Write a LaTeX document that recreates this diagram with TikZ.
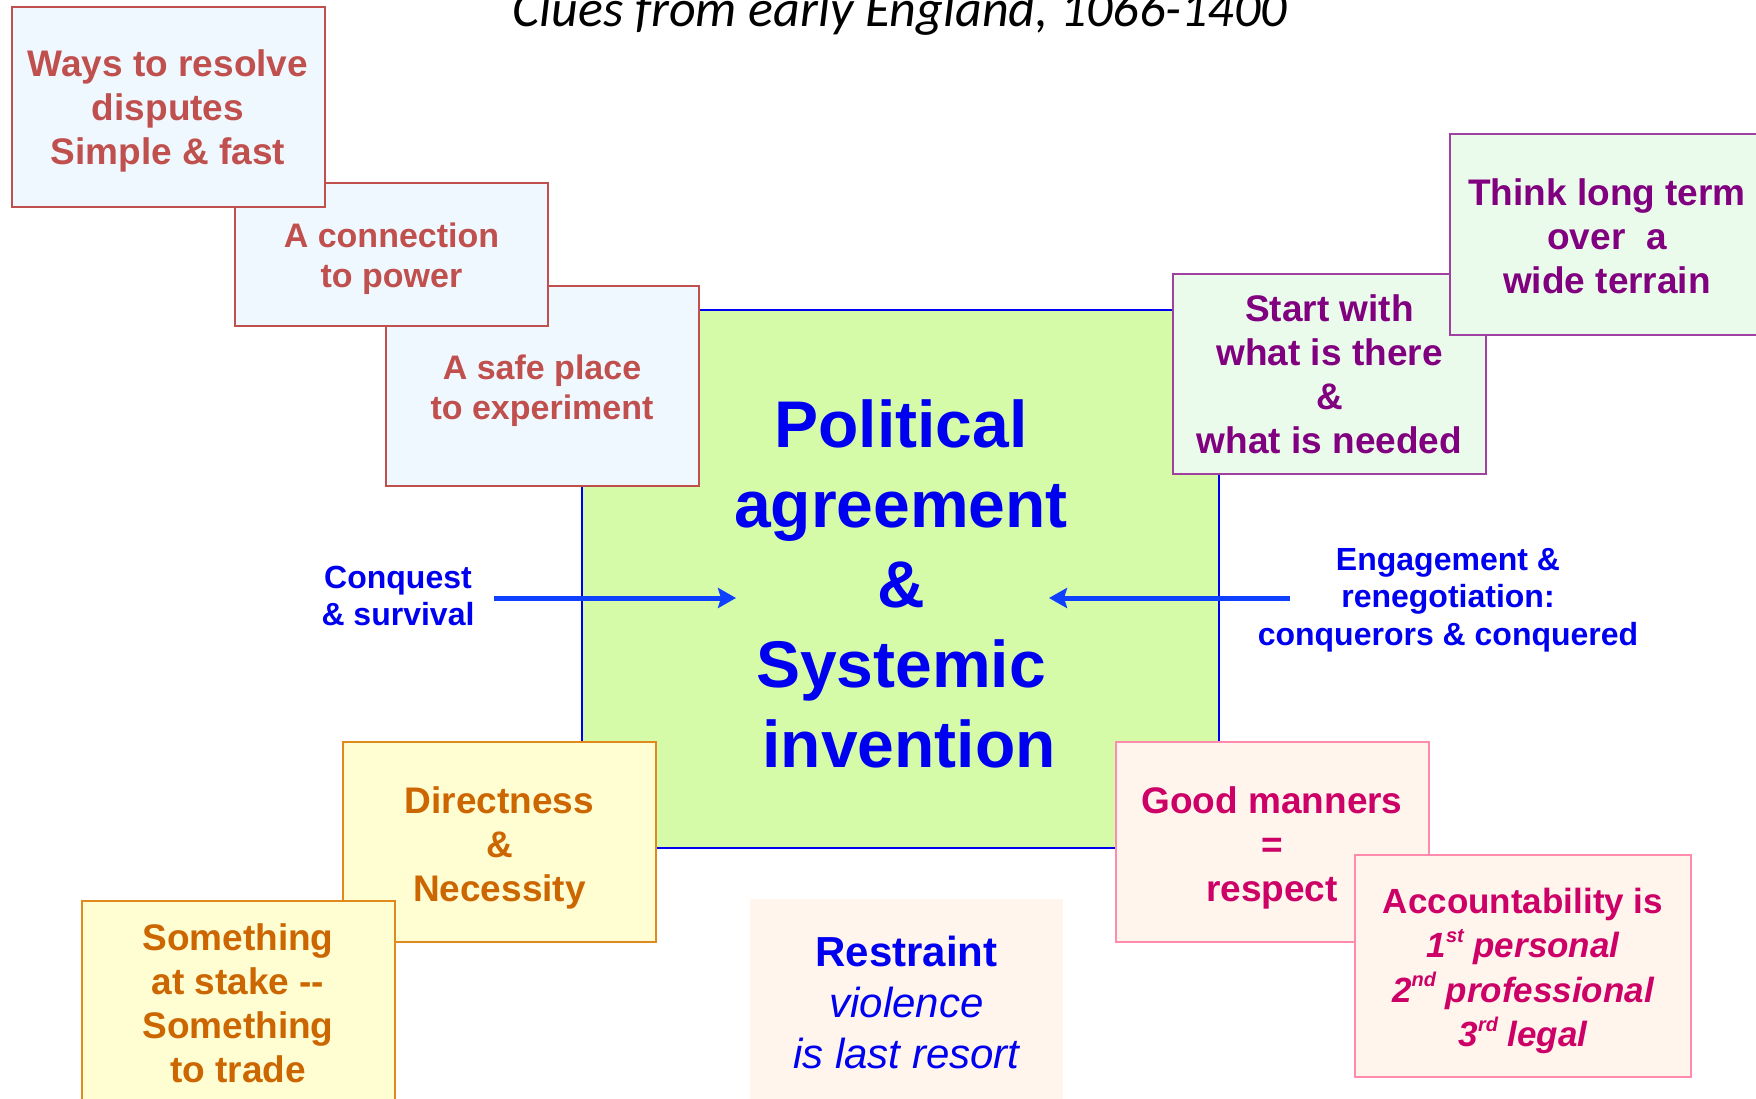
\documentclass[tikz,border=0pt]{standalone}
\usepackage{fontspec}
\setmainfont{Liberation Sans}
\newfontfamily\cluesfont{Carlito}
\usetikzlibrary{arrows.meta}

\definecolor{brick}{HTML}{C0504D}
\definecolor{iceblue}{HTML}{F0F8FF}
\definecolor{plum}{HTML}{800080}
\definecolor{plumline}{HTML}{A040A0}
\definecolor{mint}{HTML}{EBFBEB}
\definecolor{rust}{HTML}{CC6600}
\definecolor{rustline}{HTML}{E08A1E}
\definecolor{cream}{HTML}{FFFDD2}
\definecolor{berry}{HTML}{CC0066}
\definecolor{berryline}{HTML}{FF8CAC}
\definecolor{shell}{HTML}{FFF5EC}
\definecolor{lime}{HTML}{D5FBA8}
\definecolor{royal}{HTML}{0000F0}
\definecolor{arrowblue}{HTML}{1040FF}

\newcommand\ordsup[1]{\raisebox{.85ex}{\fontsize{20pt}{20pt}\selectfont#1}}
\newcommand\toplift[1][40pt]{\rule{0pt}{#1}}

\tikzset{
  card/.style={line width=2pt, inner sep=0pt, align=center,
    minimum width=313pt, minimum height=200pt},
  redcard/.style={card, draw=brick, fill=iceblue, text=brick,
    font=\bfseries\fontsize{34pt}{40pt}\selectfont},
  plumcard/.style={card, draw=plumline, fill=mint, text=plum,
    font=\bfseries\fontsize{37pt}{44pt}\selectfont},
  rustcard/.style={card, draw=rustline, fill=cream, text=rust,
    font=\bfseries\fontsize{37pt}{44pt}\selectfont},
  berrycard/.style={card, draw=berryline, fill=shell, text=berry,
    font=\bfseries\fontsize{37pt}{44pt}\selectfont},
  bluetext/.style={text=royal, align=center, inner sep=0pt,
    font=\bfseries\fontsize{32pt}{37.5pt}\selectfont},
  flow/.style={draw=arrowblue, line width=5pt,
    -{Stealth[length=18pt,width=20pt,inset=3pt]}}
}

\begin{document}
\begin{tikzpicture}[x=1pt,y=-1pt]
    \useasboundingbox (0,0) rectangle (1756,1099);

    \node[anchor=base, font=\cluesfont\itshape\fontsize{52pt}{52pt}\selectfont] (clues) at (900,27) {Clues from early England, 1066-1400};

    \node[draw=royal, line width=2pt, fill=lime, minimum width=637pt, minimum height=538pt] (core) at (900.5,579) {};
    \node[text=royal, align=center, font=\bfseries\fontsize{66pt}{80pt}\selectfont] (coretext) at (901,584) {Political\\agreement\\\&\\Systemic\\\hspace*{16pt}invention};

    \node[redcard] (safe) at (542,386) {\toplift[34pt]A safe place\\to experiment};
    \node[redcard, minimum height=143pt] (power) at (391.5,254.5) {\toplift[33.5pt]A connection\\to power};
    \node[redcard, font=\bfseries\fontsize{37pt}{44pt}\selectfont] (disputes) at (168,107) {\toplift[35.5pt]Ways to resolve\\disputes\\Simple \& fast};

    \node[plumcard] (start) at (1329.5,374) {Start with\\what is there\\\&\\what is needed};
    \node[plumcard, minimum width=314pt] (longterm) at (1607,234.5) {\toplift[31pt]Think long term\\over\ \ a\\wide terrain};

    \node[rustcard] (direct) at (499.5,841.5) {\toplift Directness\\\&\\Necessity};
    \node[rustcard, minimum height=204pt] (stake) at (238,1003) {Something\\at stake -{}-\\Something\\to trade};

    \node[berrycard] (manners) at (1272,841.5) {\toplift Good manners\\=\\respect};
    \node[berrycard, minimum width=336pt, minimum height=222pt, font=\bfseries\fontsize{35pt}{44.5pt}\selectfont] (account) at (1523,966) {\toplift[35.5pt]Accountability is\\\itshape 1\ordsup{st} personal\\\itshape 2\ordsup{nd} professional\\\itshape 3\ordsup{rd} legal};

    \node[card, fill=shell, text=royal, font=\fontsize{42pt}{51pt}\selectfont] (restraint) at (906.5,999) {\toplift[37.5pt]\bfseries Restraint\\\itshape violence\\\itshape is last resort};

    \node[bluetext] (conquest) at (398,596) {Conquest\\\& survival};
    \node[bluetext] (engage) at (1448,600) {Engagement \&\\renegotiation:\\conquerors \& conquered};

    \coordinate (conqtail) at (494,598);
    \coordinate (conqtip) at (736,598);
    \coordinate (engtail) at (1290,598);
    \coordinate (engtip) at (1049,598);
    \draw[flow] (conqtail) -- (conqtip);
    \draw[flow] (engtail) -- (engtip);
\end{tikzpicture}
\end{document}
